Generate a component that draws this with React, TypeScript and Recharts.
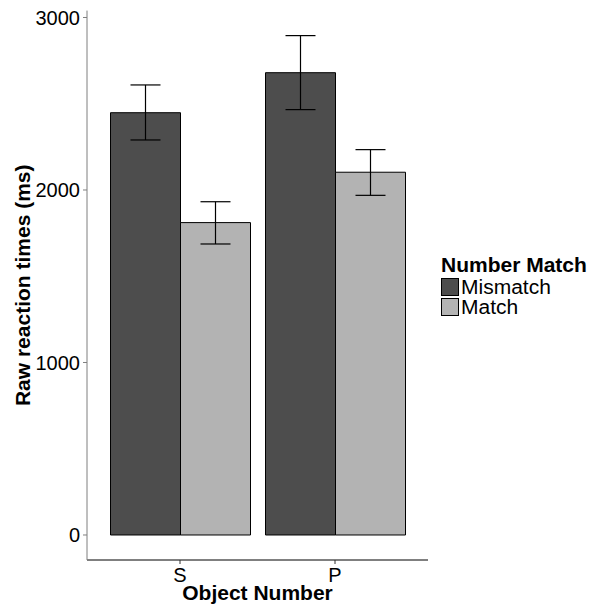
import { Bar, BarChart, ErrorBar, XAxis, YAxis } from "recharts";

const categories = ["S", "P"];
const mismatch = [2448, 2680];
const mismatchLow = [2290, 2466];
const mismatchHigh = [2609, 2895];
const match = [1811, 2103];
const matchLow = [1687, 1969];
const matchHigh = [1932, 2234];
const yTicks = [0, 1000, 2000, 3000];

const FONT = '"Liberation Sans", Arial, Helvetica, sans-serif';
const MISMATCH_FILL = "#4D4D4D";
const MATCH_FILL = "#B3B3B3";

const data = categories.map((c, i) => ({
  name: c,
  mismatch: mismatch[i],
  mismatchErr: [mismatch[i] - mismatchLow[i], mismatchHigh[i] - mismatch[i]],
  match: match[i],
  matchErr: [match[i] - matchLow[i], matchHigh[i] - match[i]],
}));

const legendItems = [
  { label: "Mismatch", fill: MISMATCH_FILL },
  { label: "Match", fill: MATCH_FILL },
];

// rotated y title, centred on the panel like ggplot does
function YTitle(props: any) {
  const { viewBox } = props;
  const cy = viewBox.y + viewBox.height / 2;
  return (
    <text
      x={23}
      y={cy}
      transform={`rotate(-90, 23, ${cy})`}
      textAnchor="middle"
      dominantBaseline="central"
      fontFamily={FONT}
      fontWeight="bold"
      fontSize={21}
      fill="#000"
    >
      Raw reaction times (ms)
    </text>
  );
}

export default function App() {
  return (
    <div style={{ position: "absolute", left: 0, top: 0, width: 592, height: 609, background: "#fff" }}>
      <BarChart
        width={592}
        height={609}
        data={data}
        margin={{ top: 10.6, right: 164, bottom: 0, left: 0 }}
        barGap={0}
        barSize={70}
      >
        <XAxis
          dataKey="name"
          padding={{ left: 15.5, right: 15.5 }}
          height={49}
          tickSize={4}
          tickMargin={4}
          axisLine={{ stroke: "#000" }}
          tickLine={{ stroke: "#333" }}
          tick={{ fill: "#000", fontSize: 20, fontFamily: FONT }}
          label={{
            value: "Object Number",
            position: "insideBottom",
            offset: 9,
            style: { fontFamily: FONT, fontWeight: "bold", fontSize: 21, fill: "#000" },
          }}
        />
        <YAxis
          width={87}
          domain={[-145, 3040]}
          ticks={yTicks}
          allowDataOverflow
          tickSize={4}
          tickMargin={3}
          axisLine={{ stroke: "#7F7F7F" }}
          tickLine={{ stroke: "#7F7F7F" }}
          tick={{ fill: "#000", fontSize: 20, fontFamily: FONT }}
          label={<YTitle />}
        />
        <Bar dataKey="mismatch" fill={MISMATCH_FILL} stroke="#000" strokeWidth={1} isAnimationActive={false}>
          <ErrorBar dataKey="mismatchErr" width={15} stroke="#000" strokeWidth={1.2} direction="y" />
        </Bar>
        <Bar dataKey="match" fill={MATCH_FILL} stroke="#000" strokeWidth={1} isAnimationActive={false}>
          <ErrorBar dataKey="matchErr" width={15} stroke="#000" strokeWidth={1.2} direction="y" />
        </Bar>
      </BarChart>
      <div
        style={{
          position: "absolute",
          left: 441,
          top: 253,
          fontFamily: FONT,
          color: "#000",
        }}
      >
        <div style={{ fontWeight: "bold", fontSize: 21, lineHeight: "24px" }}>Number Match</div>
        {legendItems.map((it) => (
          <div key={it.label} style={{ display: "flex", alignItems: "center", height: 20, fontSize: 20 }}>
            <div
              style={{
                width: 18,
                height: 18,
                background: it.fill,
                border: "1px solid #000",
                boxSizing: "border-box",
                marginRight: 2,
              }}
            />
            <span style={{ display: "inline-block", height: 20, lineHeight: "20px", transform: "scaleX(1.05)", transformOrigin: "left center" }}>
              {it.label}
            </span>
          </div>
        ))}
      </div>
    </div>
  );
}
